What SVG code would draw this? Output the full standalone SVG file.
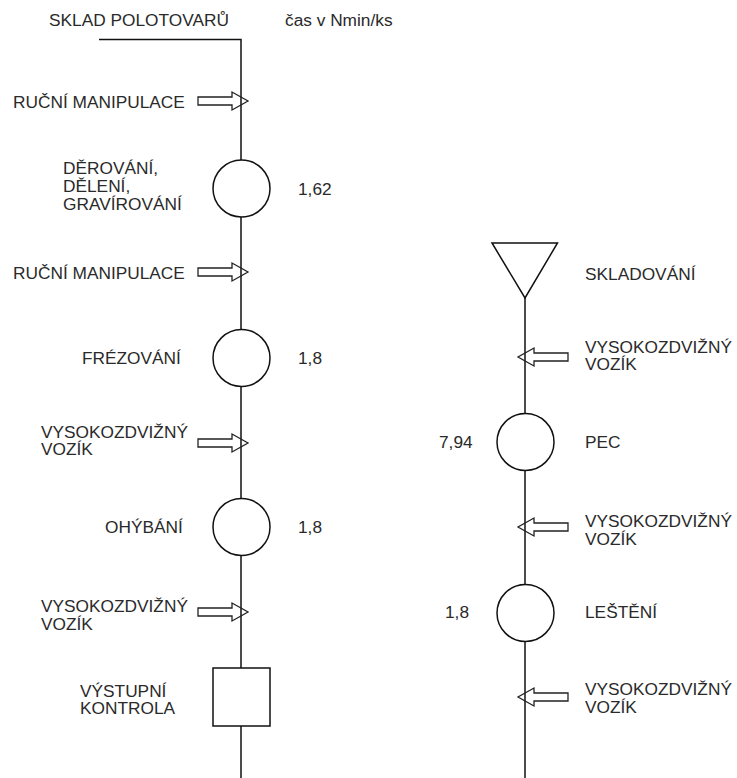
<svg xmlns="http://www.w3.org/2000/svg" xmlns:xlink="http://www.w3.org/1999/xlink" width="737" height="778" viewBox="0 0 737 778">
<style>
  text { font-family: "Liberation Sans", Arial, sans-serif; font-size: 17.3px; fill: #2a2a2a; }
  .ln { stroke: #111; stroke-width: 1.5; fill: none; }
  .sym { stroke: #111; stroke-width: 1.5; fill: #fff; }
  .arr { stroke: #222; stroke-width: 1.3; fill: none; stroke-linejoin: miter; }
</style>
<defs>
  <polygon id="arrR" class="arr" points="-50,-4 -16,-4 -16,-9 0,0 -16,9 -16,4 -50,4"/>
  <polygon id="arrL" class="arr" points="50,-4 16,-4 16,-9 0,0 16,9 16,4 50,4"/>
</defs>
<rect width="737" height="778" fill="#fff"/>

<g id="connectors">
  <polyline class="ln" points="99,39.5 241,39.5 241,778"/>
  <line class="ln" x1="525" y1="298" x2="525" y2="778"/>
</g>

<g id="header">
  <text x="49" y="26">SKLAD POLOTOVARŮ</text>
  <text x="285" y="26">čas v Nmin/ks</text>
</g>

<g id="t1">
  <use xlink:href="#arrR" x="248" y="101"/>
  <text x="13" y="108">RUČNÍ MANIPULACE</text>
</g>

<g id="n-derovani">
  <circle class="sym" cx="241.5" cy="188.5" r="28.5"/>
  <text x="63" y="174">DĚROVÁNÍ,</text>
  <text x="63" y="192">DĚLENÍ,</text>
  <text x="63" y="210">GRAVÍROVÁNÍ</text>
  <text x="298" y="195">1,62</text>
</g>

<g id="t2">
  <use xlink:href="#arrR" x="248" y="272"/>
  <text x="13" y="278.5">RUČNÍ MANIPULACE</text>
</g>

<g id="n-frezovani">
  <circle class="sym" cx="241.5" cy="358" r="28.5"/>
  <text x="82" y="364">FRÉZOVÁNÍ</text>
  <text x="298" y="364">1,8</text>
</g>

<g id="t3">
  <use xlink:href="#arrR" x="248" y="443"/>
  <text x="41" y="438">VYSOKOZDVIŽNÝ</text>
  <text x="41" y="455">VOZÍK</text>
</g>

<g id="n-ohybani">
  <circle class="sym" cx="241.5" cy="527" r="28.5"/>
  <text x="105" y="533">OHÝBÁNÍ</text>
  <text x="298" y="533">1,8</text>
</g>

<g id="t4">
  <use xlink:href="#arrR" x="248" y="612"/>
  <text x="41" y="612">VYSOKOZDVIŽNÝ</text>
  <text x="41" y="630">VOZÍK</text>
</g>

<g id="n-kontrola">
  <rect class="sym" x="213" y="668" width="57" height="58"/>
  <text x="80" y="697">VÝSTUPNÍ</text>
  <text x="80" y="714">KONTROLA</text>
</g>

<g id="n-skladovani">
  <polygon class="sym" points="492,243 557.5,243 525,298"/>
  <text x="585" y="280">SKLADOVÁNÍ</text>
</g>

<g id="t5">
  <use xlink:href="#arrL" x="518" y="357"/>
  <text x="585" y="353">VYSOKOZDVIŽNÝ</text>
  <text x="585" y="370">VOZÍK</text>
</g>

<g id="n-pec">
  <circle class="sym" cx="525.5" cy="442" r="28.5"/>
  <text x="439" y="448">7,94</text>
  <text x="585" y="448">PEC</text>
</g>

<g id="t6">
  <use xlink:href="#arrL" x="518" y="527"/>
  <text x="585" y="527">VYSOKOZDVIŽNÝ</text>
  <text x="585" y="545">VOZÍK</text>
</g>

<g id="n-lesteni">
  <circle class="sym" cx="525.5" cy="613" r="28.5"/>
  <text x="445" y="618">1,8</text>
  <text x="585" y="618">LEŠTĚNÍ</text>
</g>

<g id="t7">
  <use xlink:href="#arrL" x="518" y="697"/>
  <text x="585" y="695">VYSOKOZDVIŽNÝ</text>
  <text x="585" y="713">VOZÍK</text>
</g>
</svg>
